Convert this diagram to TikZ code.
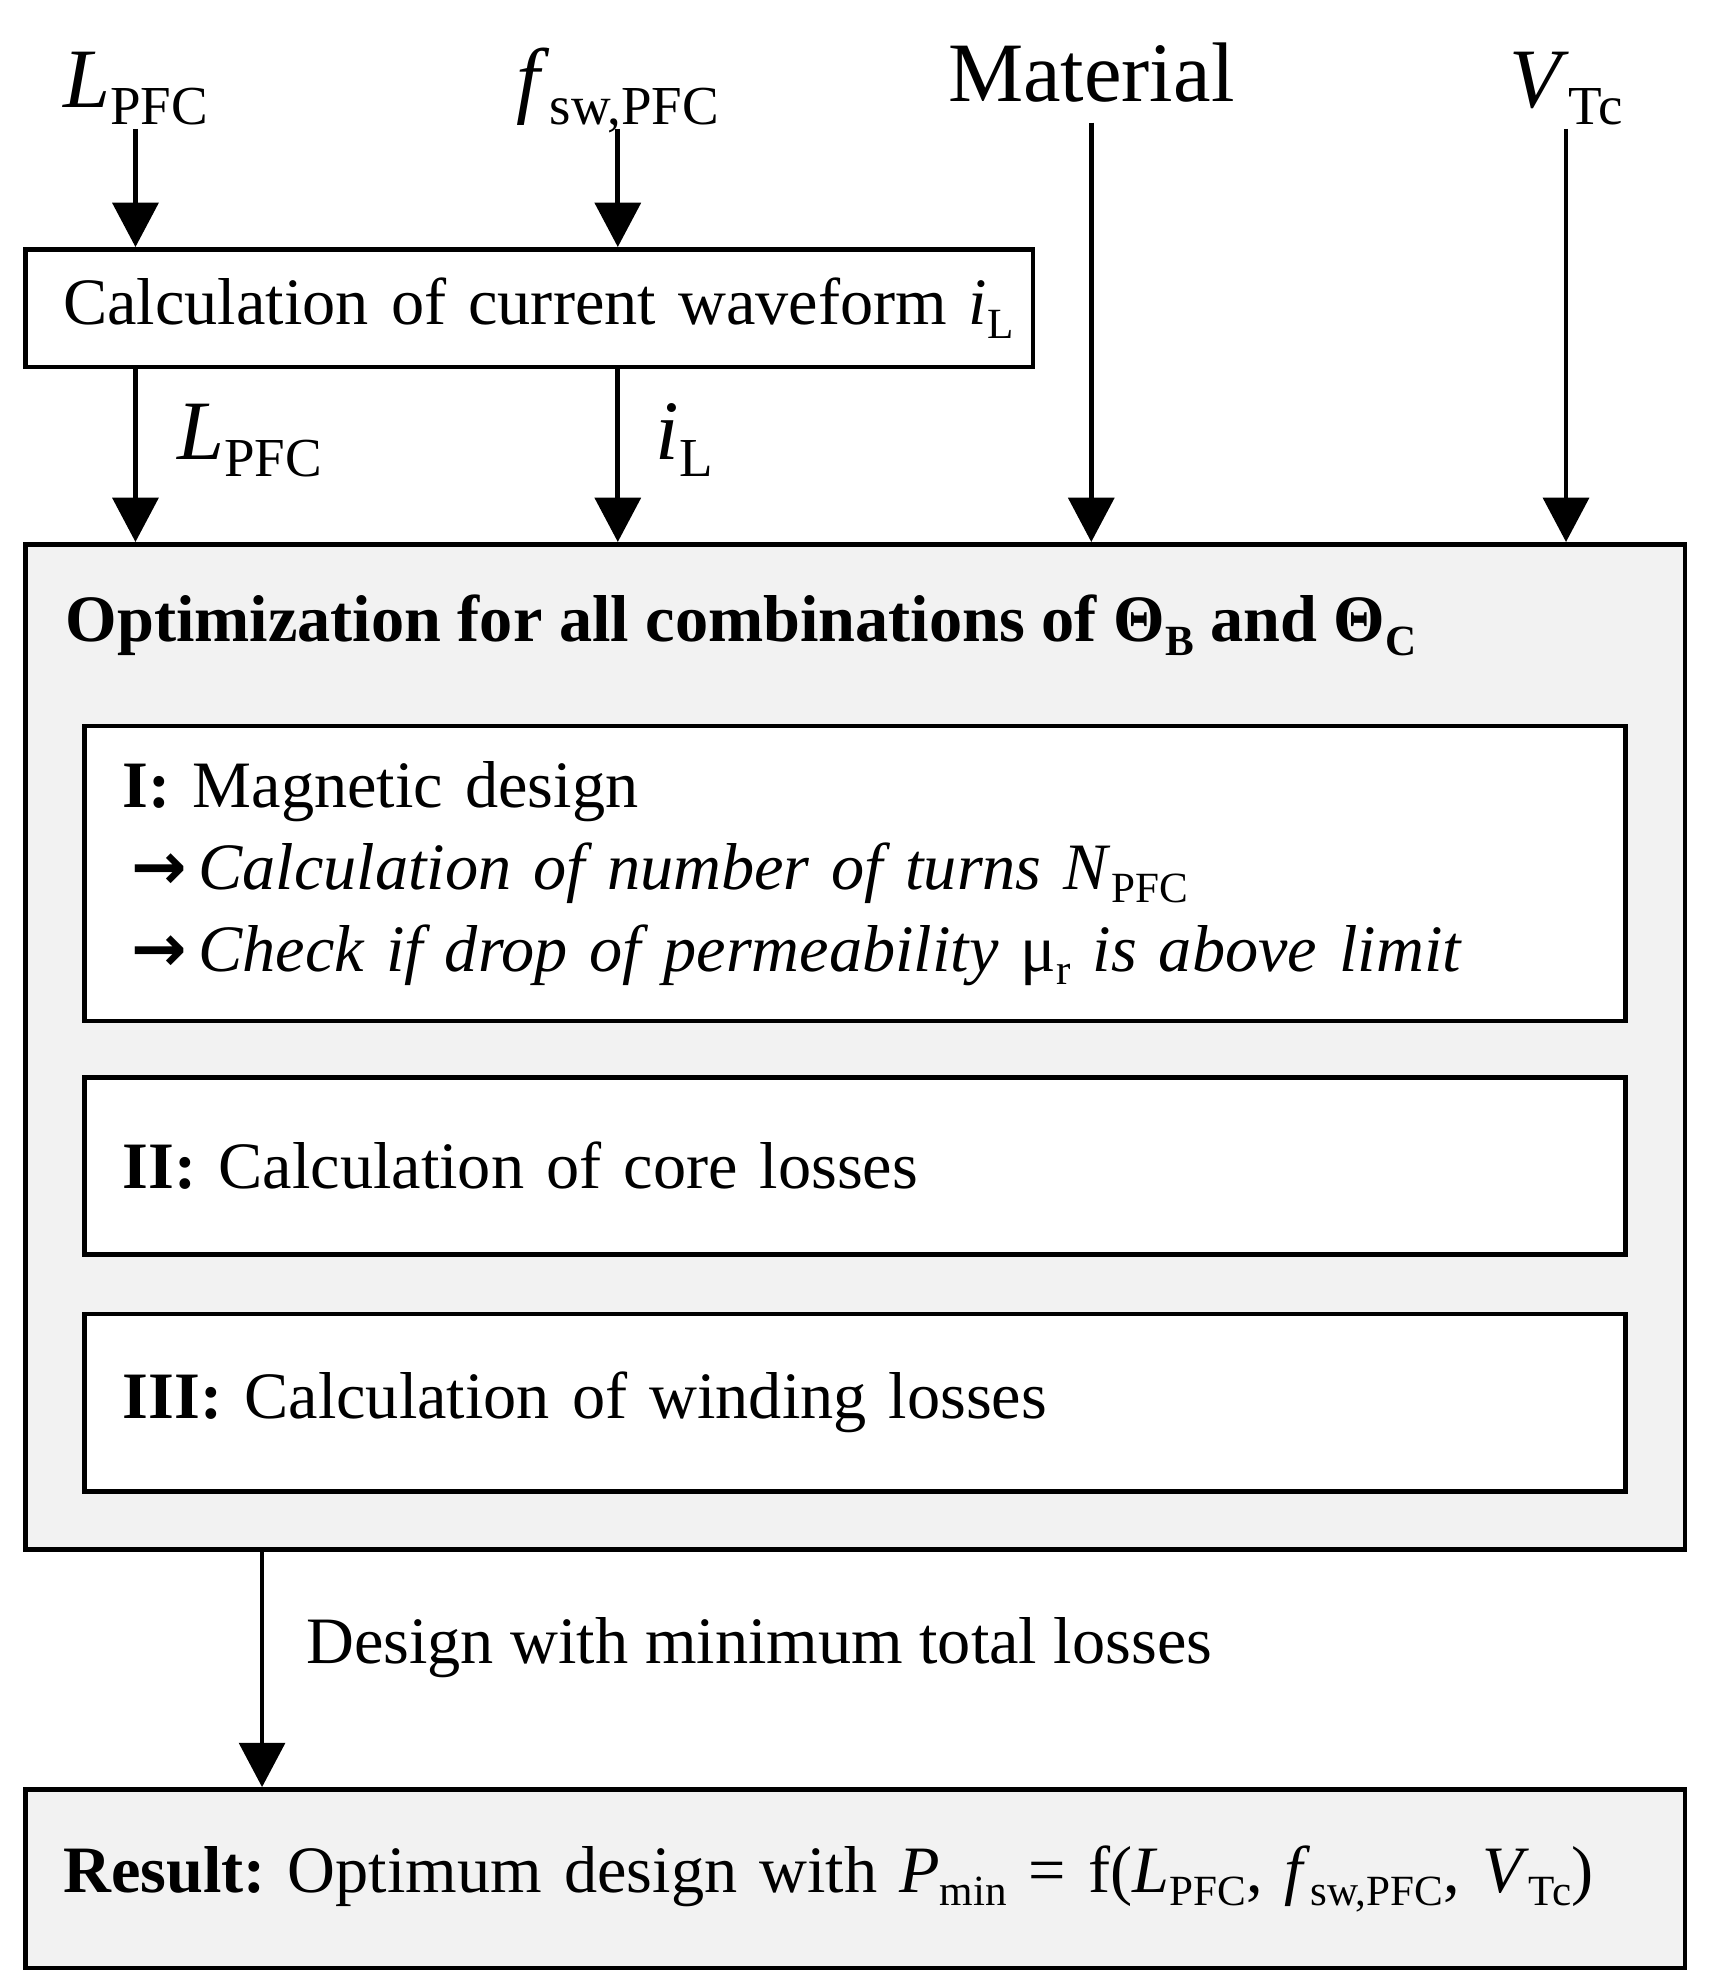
\documentclass[tikz,border=0pt]{standalone}
\usepackage{fontspec}
\setmainfont{Liberation Serif}
\newfontfamily\arrowfont{DejaVu Sans}
\usetikzlibrary{arrows.meta,calc}
\definecolor{lightgrey}{HTML}{F2F2F2}
\makeatletter
\newcommand{\sbs}[1]{\raisebox{-0.2em}{\fontsize{\strip@pt\dimexpr0.65\dimexpr\f@size pt\relax\relax}{1pt}\selectfont #1}}
\makeatother
\frenchspacing
\tikzset{
  blk/.style={draw,rectangle,inner xsep=0.3cm,inner ysep=0pt,align=left},
  inlab/.style={inner sep=0.05cm,text depth=0.1cm,anchor=base,font=\fontsize{19}{22}\selectfont},
  midlab/.style={inner sep=0pt,anchor=base west,font=\fontsize{19}{22}\selectfont},
}

\begin{document}
\begin{tikzpicture}[line width=1.05pt,>={Triangle[length=3.5mm,width=3.6mm]},
    font=\fontsize{14.9}{18.5}\selectfont]
      \useasboundingbox (0,0) rectangle (13.52,15.64);

      % inputs
      \node[inlab] (In1) at (1.07, 14.79) {\textit{L}\sbs{PFC}};
      \node[inlab] (In2) at (4.88, 14.79) {\textit{f}\sbs{sw,PFC}};
      \node[inlab] (In3) at (8.62, 14.84) {Material};
      \node[inlab] (In4) at (12.37, 14.79) {\textit{V}\sbs{Tc}};

      % boxes
      \node[blk,minimum width=7.96cm,minimum height=0.93cm,text width=7.36cm] (B0) at (4.18, 13.205)
        {\mbox{Calculation of current waveform \textit{i}\sbs{L}}};
      \node[blk,fill=lightgrey,minimum width=13.11cm,minimum height=7.94cm] (B1) at (6.755, 7.37) {};
      \node[anchor=base west,inner sep=0pt] (T1) at (0.50, 10.57)
        {\textbf{Optimization for all combinations of Θ\sbs{B} and Θ\sbs{C}}};
      \node[blk,fill=white,minimum width=12.17cm,minimum height=2.33cm,text width=11.57cm] (B2) at (6.755, 8.74)
        {\textbf{I:} Magnetic design\\
         \hspace*{0.07cm}{\arrowfont\bfseries →}\,\textit{Calculation of number of turns N}\sbs{PFC}\\
         \hspace*{0.07cm}{\arrowfont\bfseries →}\,\textit{Check if drop of permeability} μ\sbs{r} \textit{is above limit}};
      \node[blk,fill=white,minimum width=12.17cm,minimum height=1.40cm,text width=11.57cm] (B3) at (6.755, 6.43)
        {\textbf{II:} Calculation of core losses};
      \node[blk,fill=white,minimum width=12.17cm,minimum height=1.40cm,text width=11.57cm] (B4) at (6.755, 4.56)
        {\textbf{III:} Calculation of winding losses};
      \node[blk,fill=lightgrey,minimum width=13.11cm,minimum height=1.41cm,text width=12.51cm] (B5) at (6.755, 0.80)
        {\mbox{\textbf{Result:} Optimum design with \textit{P}\sbs{min} = f(\textit{L}\sbs{PFC}, \textit{f}\sbs{sw,PFC}, \textit{V}\sbs{Tc})}};

      % labels on the arrows
      \node[midlab] (M1) at (1.38, 12.01) {\textit{L}\sbs{PFC}};
      \node[midlab] (M2) at (5.16, 12.01) {\textit{i}\sbs{L}};
      \node[anchor=base west,inner sep=0pt] (M3) at (2.40, 2.50) {Design with minimum total losses};
      \coordinate (R0) at (2.07, 0);

      \draw[->] (In1.south) -- (In1.south |- B0.north);
      \draw[->] (In2.south) -- (In2.south |- B0.north);
      \draw[->] (In3.south) -- (In3.south |- B1.north);
      \draw[->] (In4.south) -- (In4.south |- B1.north);
      \draw[->] (In1.south |- B0.south) -- (In1.south |- B1.north);
      \draw[->] (In2.south |- B0.south) -- (In2.south |- B1.north);
      \draw[->] (R0 |- B1.south) -- (R0 |- B5.north);
    \end{tikzpicture}
\end{document}
